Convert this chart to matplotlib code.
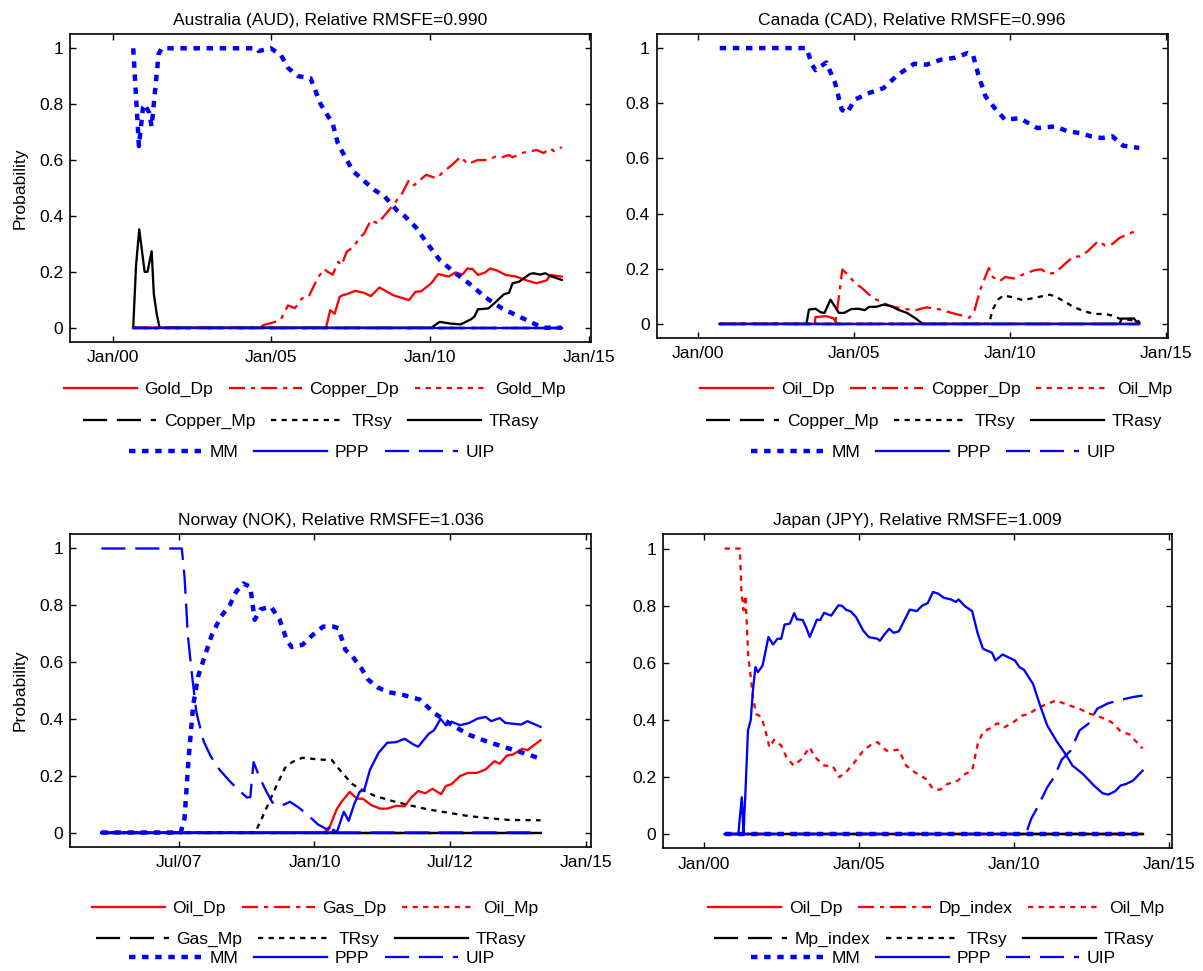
import matplotlib
matplotlib.use("Agg")
import matplotlib.pyplot as plt

plt.rcParams['font.family'] = ['Liberation Sans', 'DejaVu Sans']
FS = 12.6
W, H = 1203, 971

## Data: (decimal year, probability) pairs

# Australia (AUD)
aud_zero = [(2000.65, 0.0), (2014.14, 0.0)]
aud_gold_dp = [(2000.65, 0), (2006.72, 0), (2006.85, 0.063), (2006.99, 0.05), (2007.15, 0.111),
               (2007.26, 0.117), (2007.37, 0.12), (2007.64, 0.132), (2007.91, 0.125), (2008.13, 0.113),
               (2008.40, 0.144), (2008.62, 0.13), (2008.84, 0.116), (2009.33, 0.099), (2009.54, 0.129),
               (2009.71, 0.13), (2010.03, 0.159), (2010.25, 0.192), (2010.58, 0.183), (2010.79, 0.198),
               (2011.01, 0.19), (2011.17, 0.212), (2011.33, 0.21), (2011.50, 0.189), (2011.72, 0.197),
               (2011.88, 0.212), (2012.10, 0.205), (2012.37, 0.189), (2012.70, 0.183), (2013.02, 0.17),
               (2013.35, 0.159), (2013.67, 0.17), (2013.78, 0.189), (2014.14, 0.183)]
aud_copper_dp = [(2000.65, 0), (2004.65, 0), (2004.76, 0.01), (2005.09, 0.02), (2005.30, 0.03),
                 (2005.52, 0.08), (2005.74, 0.07), (2005.96, 0.105), (2006.17, 0.11), (2006.45, 0.177),
                 (2006.66, 0.21), (2006.77, 0.20), (2006.93, 0.19), (2007.10, 0.236), (2007.21, 0.224),
                 (2007.37, 0.272), (2007.59, 0.29), (2007.80, 0.326), (2007.91, 0.335), (2008.13, 0.385),
                 (2008.35, 0.373), (2008.57, 0.403), (2008.84, 0.44), (2009.11, 0.48), (2009.33, 0.528),
                 (2009.49, 0.51), (2009.87, 0.547), (2010.20, 0.535), (2010.41, 0.558), (2010.68, 0.582),
                 (2010.96, 0.612), (2011.17, 0.586), (2011.50, 0.60), (2011.83, 0.60), (2012.04, 0.612),
                 (2012.26, 0.61), (2012.48, 0.618), (2012.59, 0.61), (2012.91, 0.626), (2013.35, 0.636),
                 (2013.57, 0.625), (2013.78, 0.642), (2013.89, 0.632), (2014.14, 0.646)]
aud_trasy = [(2000.65, 0), (2000.74, 0.224), (2000.84, 0.352), (2001.01, 0.20), (2001.10, 0.20),
             (2001.23, 0.274), (2001.30, 0.12), (2001.39, 0.05), (2001.48, 0), (2010.03, 0),
             (2010.30, 0.021), (2010.63, 0.015), (2010.96, 0.012), (2011.28, 0.03), (2011.39, 0.04),
             (2011.50, 0.066), (2011.83, 0.069), (2012.04, 0.09), (2012.32, 0.12), (2012.48, 0.125),
             (2012.59, 0.159), (2012.80, 0.165), (2013.13, 0.192), (2013.24, 0.195), (2013.46, 0.19),
             (2013.62, 0.195), (2013.78, 0.185), (2014.14, 0.171)]
aud_mm = [(2000.65, 1.0), (2000.83, 0.65), (2000.96, 0.79), (2001.01, 0.80), (2001.15, 0.77),
          (2001.23, 0.72), (2001.28, 0.78), (2001.45, 0.98), (2001.55, 1.0), (2004.54, 1.0),
          (2004.60, 0.99), (2004.98, 1.0), (2005.30, 0.976), (2005.52, 0.93), (2005.85, 0.90),
          (2006.23, 0.893), (2006.55, 0.80), (2006.93, 0.73), (2007.09, 0.66), (2007.37, 0.60),
          (2007.59, 0.558), (2007.97, 0.52), (2008.24, 0.493), (2008.57, 0.469), (2008.95, 0.42),
          (2009.22, 0.397), (2009.54, 0.36), (2009.98, 0.29), (2010.30, 0.242), (2010.74, 0.20),
          (2011.28, 0.153), (2011.72, 0.11), (2012.26, 0.069), (2012.80, 0.04), (2013.35, 0.01),
          (2013.57, 0.0), (2014.14, 0.0)]

# Canada (CAD)
cad_zero = [(2000.69, 0.0), (2014.14, 0.0)]
cad_oil_dp = [(2000.69, 0), (2003.74, 0), (2003.76, 0.025), (2004.11, 0.028), (2004.34, 0.02),
              (2004.45, 0), (2014.14, 0)]
cad_copper_dp = [(2000.69, 0), (2004.39, 0), (2004.50, 0.09), (2004.62, 0.197), (2004.79, 0.179),
                 (2005.02, 0.149), (2005.25, 0.13), (2005.48, 0.106), (2005.71, 0.088), (2005.94, 0.076),
                 (2006.17, 0.064), (2006.63, 0.054), (2006.97, 0.05), (2007.32, 0.06), (2007.78, 0.052),
                 (2008.12, 0.04), (2008.46, 0.03), (2008.69, 0.022), (2008.86, 0.05), (2009.04, 0.124),
                 (2009.21, 0.173), (2009.32, 0.203), (2009.44, 0.17), (2009.67, 0.155), (2009.84, 0.17),
                 (2010.13, 0.165), (2010.41, 0.179), (2010.76, 0.194), (2010.99, 0.198), (2011.22, 0.182),
                 (2011.44, 0.185), (2011.79, 0.221), (2012.02, 0.243), (2012.25, 0.245), (2012.48, 0.263),
                 (2012.82, 0.30), (2013.05, 0.284), (2013.28, 0.29), (2013.51, 0.312), (2013.74, 0.324),
                 (2014.14, 0.342)]
cad_trsy = [(2000.69, 0), (2009.32, 0), (2009.44, 0.052), (2009.61, 0.088), (2009.78, 0.103),
            (2010.07, 0.097), (2010.41, 0.086), (2010.76, 0.094), (2011.27, 0.106), (2011.44, 0.10),
            (2011.73, 0.082), (2012.02, 0.062), (2012.37, 0.046), (2012.71, 0.036), (2013.05, 0.036),
            (2013.28, 0.03), (2013.51, 0.019), (2013.80, 0.015), (2014.14, 0.01)]
cad_trasy = [(2000.69, 0), (2003.47, 0), (2003.55, 0.052), (2003.76, 0.055), (2003.93, 0.042),
             (2004.05, 0.04), (2004.24, 0.088), (2004.51, 0.04), (2004.68, 0.04), (2004.91, 0.054),
             (2005.14, 0.055), (2005.34, 0.05), (2005.48, 0.062), (2005.71, 0.062), (2005.94, 0.07),
             (2006.17, 0.065), (2006.40, 0.052), (2006.69, 0.04), (2006.97, 0.02), (2007.20, 0),
             (2013.51, 0), (2013.57, 0.019), (2013.97, 0.02), (2014.03, 0.01), (2014.14, 0.005)]
cad_mm = [(2000.69, 1.0), (2003.47, 1.0), (2003.65, 0.94), (2003.76, 0.92), (2004.11, 0.948),
          (2004.39, 0.873), (2004.60, 0.777), (2004.77, 0.765), (2005.02, 0.813), (2005.42, 0.835),
          (2005.94, 0.855), (2006.40, 0.903), (2006.92, 0.943), (2007.32, 0.94), (2007.78, 0.958),
          (2008.23, 0.965), (2008.64, 0.982), (2008.81, 0.975), (2008.98, 0.903), (2009.21, 0.825),
          (2009.50, 0.783), (2009.84, 0.74), (2010.30, 0.746), (2010.87, 0.71), (2011.44, 0.716),
          (2011.85, 0.698), (2012.25, 0.692), (2012.59, 0.68), (2012.94, 0.674), (2013.28, 0.68),
          (2013.62, 0.646), (2014.14, 0.638)]

# Norway (NOK)
nok_zero = [(2006.08, 0.0), (2014.16, 0.0)]
nok_oil_dp = [(2006.08, 0), (2010.16, 0), (2010.26, 0.01), (2010.41, 0.082), (2010.51, 0.111),
              (2010.65, 0.143), (2010.78, 0.119), (2010.89, 0.119), (2011.05, 0.096), (2011.21, 0.084),
              (2011.34, 0.084), (2011.50, 0.094), (2011.66, 0.092), (2011.78, 0.123), (2011.91, 0.146),
              (2012.04, 0.138), (2012.17, 0.154), (2012.33, 0.135), (2012.42, 0.164), (2012.52, 0.17),
              (2012.68, 0.199), (2012.83, 0.21), (2012.99, 0.21), (2013.15, 0.222), (2013.31, 0.251),
              (2013.41, 0.242), (2013.54, 0.271), (2013.66, 0.275), (2013.82, 0.295), (2013.92, 0.29),
              (2014.16, 0.325)]
nok_trsy = [(2006.08, 0), (2008.91, 0), (2009.04, 0.053), (2009.27, 0.152), (2009.46, 0.228),
            (2009.59, 0.248), (2009.78, 0.263), (2010.09, 0.257), (2010.32, 0.255), (2010.51, 0.21),
            (2010.70, 0.17), (2010.86, 0.152), (2011.11, 0.129), (2011.43, 0.111), (2011.75, 0.096),
            (2012.07, 0.082), (2012.45, 0.07), (2012.83, 0.058), (2013.22, 0.05), (2013.60, 0.044),
            (2014.16, 0.043)]
nok_mm = [(2006.08, 0), (2007.54, 0), (2007.61, 0.05), (2007.68, 0.25), (2007.77, 0.45),
          (2007.86, 0.55), (2007.99, 0.626), (2008.12, 0.70), (2008.28, 0.76), (2008.44, 0.80),
          (2008.56, 0.848), (2008.69, 0.877), (2008.82, 0.865), (2008.90, 0.749), (2009.01, 0.786),
          (2009.20, 0.795), (2009.36, 0.749), (2009.49, 0.678), (2009.58, 0.653), (2009.78, 0.661),
          (2009.97, 0.696), (2010.16, 0.725), (2010.35, 0.725), (2010.44, 0.719), (2010.57, 0.643),
          (2010.70, 0.62), (2010.86, 0.579), (2010.99, 0.538), (2011.18, 0.509), (2011.37, 0.494),
          (2011.62, 0.485), (2011.94, 0.468), (2012.20, 0.421), (2012.52, 0.38), (2012.83, 0.345),
          (2013.15, 0.322), (2013.47, 0.302), (2013.73, 0.287), (2014.16, 0.26)]
nok_ppp = [(2006.08, 0), (2010.32, 0), (2010.35, 0.01), (2010.41, 0), (2010.54, 0.073),
           (2010.63, 0.041), (2010.73, 0.099), (2010.83, 0.143), (2010.92, 0.152), (2011.02, 0.22),
           (2011.18, 0.281), (2011.34, 0.316), (2011.50, 0.318), (2011.66, 0.33), (2011.82, 0.31),
           (2011.91, 0.302), (2012.10, 0.347), (2012.20, 0.36), (2012.32, 0.40), (2012.42, 0.377),
           (2012.52, 0.39), (2012.68, 0.378), (2012.84, 0.385), (2013.00, 0.401), (2013.15, 0.407),
           (2013.25, 0.392), (2013.41, 0.403), (2013.51, 0.386), (2013.80, 0.38), (2013.92, 0.392),
           (2014.16, 0.372)]
nok_uip = [(2006.08, 1.0), (2007.56, 1.0), (2007.61, 0.90), (2007.67, 0.696), (2007.75, 0.55),
           (2007.83, 0.421), (2007.96, 0.322), (2008.09, 0.269), (2008.25, 0.222), (2008.44, 0.181),
           (2008.60, 0.15), (2008.76, 0.123), (2008.82, 0.125), (2008.88, 0.248), (2008.98, 0.199),
           (2009.11, 0.146), (2009.23, 0.105), (2009.39, 0.094), (2009.55, 0.108), (2009.71, 0.088),
           (2009.90, 0.058), (2010.06, 0.029), (2010.22, 0.012), (2010.32, 0.021), (2010.38, 0),
           (2014.16, 0)]

# Japan (JPY)
jpy_zero = [(2000.68, 0.0), (2014.14, 0.0)]
jpy_oil_mp = [(2000.68, 1.0), (2001.17, 1.0), (2001.22, 0.848), (2001.29, 0.784), (2001.35, 0.836),
              (2001.44, 0.62), (2001.52, 0.55), (2001.59, 0.48), (2001.69, 0.421), (2001.86, 0.41),
              (2001.98, 0.368), (2002.12, 0.304), (2002.27, 0.33), (2002.50, 0.31), (2002.67, 0.269),
              (2002.90, 0.24), (2003.13, 0.26), (2003.42, 0.304), (2003.59, 0.269), (2003.88, 0.24),
              (2004.16, 0.238), (2004.37, 0.199), (2004.63, 0.222), (2004.86, 0.251), (2005.14, 0.292),
              (2005.43, 0.316), (2005.60, 0.322), (2005.89, 0.292), (2006.29, 0.295), (2006.52, 0.24),
              (2006.81, 0.216), (2007.16, 0.193), (2007.39, 0.158), (2007.62, 0.155), (2007.85, 0.175),
              (2008.19, 0.187), (2008.42, 0.21), (2008.65, 0.222), (2008.83, 0.316), (2009.00, 0.357),
              (2009.29, 0.374), (2009.46, 0.388), (2009.69, 0.374), (2009.98, 0.392), (2010.26, 0.415),
              (2010.49, 0.421), (2010.72, 0.439), (2011.07, 0.456), (2011.36, 0.468), (2011.64, 0.456),
              (2011.88, 0.447), (2012.10, 0.439), (2012.45, 0.421), (2012.80, 0.409), (2013.14, 0.392),
              (2013.43, 0.36), (2013.71, 0.349), (2013.95, 0.322), (2014.14, 0.30)]
jpy_ppp = [(2000.68, 0), (2001.12, 0), (2001.23, 0.129), (2001.29, 0.0), (2001.31, 0.06),
           (2001.35, 0.15), (2001.43, 0.363), (2001.52, 0.40), (2001.59, 0.503), (2001.67, 0.585),
           (2001.75, 0.567), (2001.90, 0.59), (2002.09, 0.69), (2002.24, 0.664), (2002.38, 0.684),
           (2002.50, 0.684), (2002.61, 0.734), (2002.78, 0.737), (2002.92, 0.774), (2003.01, 0.752),
           (2003.19, 0.75), (2003.30, 0.725), (2003.42, 0.69), (2003.65, 0.751), (2003.76, 0.75),
           (2003.88, 0.775), (2004.11, 0.765), (2004.34, 0.801), (2004.45, 0.80), (2004.60, 0.785),
           (2004.74, 0.78), (2004.91, 0.76), (2005.14, 0.713), (2005.32, 0.69), (2005.60, 0.684),
           (2005.68, 0.677), (2005.83, 0.70), (2005.98, 0.719), (2006.12, 0.705), (2006.29, 0.71),
           (2006.47, 0.749), (2006.64, 0.786), (2006.87, 0.781), (2007.04, 0.80), (2007.22, 0.809),
           (2007.39, 0.848), (2007.56, 0.842), (2007.73, 0.828), (2007.96, 0.822), (2008.13, 0.813),
           (2008.21, 0.822), (2008.42, 0.798), (2008.65, 0.781), (2008.83, 0.702), (2009.00, 0.649),
           (2009.29, 0.635), (2009.40, 0.608), (2009.63, 0.629), (2009.80, 0.62), (2010.03, 0.608),
           (2010.17, 0.585), (2010.32, 0.575), (2010.61, 0.526), (2010.84, 0.45), (2011.07, 0.38),
           (2011.36, 0.327), (2011.65, 0.281), (2011.88, 0.24), (2012.22, 0.21), (2012.57, 0.17),
           (2012.85, 0.143), (2013.03, 0.138), (2013.26, 0.15), (2013.43, 0.17), (2013.60, 0.175),
           (2013.83, 0.187), (2014.14, 0.222)]
jpy_uip = [(2000.68, 0), (2010.38, 0), (2010.55, 0.053), (2010.78, 0.099), (2011.07, 0.164),
           (2011.30, 0.201), (2011.53, 0.26), (2011.82, 0.292), (2012.11, 0.363), (2012.39, 0.386),
           (2012.68, 0.439), (2013.03, 0.458), (2013.37, 0.468), (2013.83, 0.48), (2014.14, 0.485)]

## Tick labels
ytick_vals = [0, 0.2, 0.4, 0.6, 0.8, 1]
ytick_labels = ['0', '0.2', '0.4', '0.6', '0.8', '1']
xt_long = [2000, 2005, 2010, 2015]
xt_long_labels = ['Jan/00', 'Jan/05', 'Jan/10', 'Jan/15']
xt_nok = [2007.5, 2010, 2012.5, 2015]
xt_nok_labels = ['Jul/07', 'Jan/10', 'Jul/12', 'Jan/15']

## Line styles for the nine models (same slot order in every panel)
LW = 1.65
STYLES = [
    dict(color='red', lw=LW, ls='-'),
    dict(color='red', lw=LW, ls=(0, (7, 2.6, 1.8, 2.6))),
    dict(color='red', lw=LW, ls=(0, (2.3, 2.3))),
    dict(color='black', lw=LW, ls=(0, (10.5, 4.3))),
    dict(color='black', lw=LW, ls=(0, (2.3, 2.3))),
    dict(color='black', lw=LW, ls='-'),
    dict(color='blue', lw=3.2, ls=(0, (1.45, 1.5))),
    dict(color='blue', lw=LW, ls='-'),
    dict(color='blue', lw=LW, ls=(0, (10.5, 4.3))),
]

panels = [
    dict(title='Australia (AUD), Relative RMSFE=0.990', box=(70.3, 34.3, 590.7, 341.7),
         xlim=(1998.67, 2015.05), xt=xt_long, xtl=xt_long_labels, ylabel=True, col=0, row=0,
         labels=['Gold_Dp', 'Copper_Dp', 'Gold_Mp', 'Copper_Mp', 'TRsy', 'TRasy', 'MM', 'PPP', 'UIP'],
         series=[aud_gold_dp, aud_copper_dp, aud_zero, aud_zero, aud_zero, aud_trasy, aud_mm, aud_zero, aud_zero]),
    dict(title='Canada (CAD), Relative RMSFE=0.996', box=(656.7, 34.3, 1167.7, 337.7),
         xlim=(1998.67, 2015.05), xt=xt_long, xtl=xt_long_labels, ylabel=False, col=1, row=0,
         labels=['Oil_Dp', 'Copper_Dp', 'Oil_Mp', 'Copper_Mp', 'TRsy', 'TRasy', 'MM', 'PPP', 'UIP'],
         series=[cad_oil_dp, cad_copper_dp, cad_zero, cad_zero, cad_trsy, cad_trasy, cad_mm, cad_zero, cad_zero]),
    dict(title='Norway (NOK), Relative RMSFE=1.036', box=(70.4, 534.3, 591.1, 846.7),
         xlim=(2005.51, 2015.09), xt=xt_nok, xtl=xt_nok_labels, ylabel=True, col=0, row=1,
         labels=['Oil_Dp', 'Gas_Dp', 'Oil_Mp', 'Gas_Mp', 'TRsy', 'TRasy', 'MM', 'PPP', 'UIP'],
         series=[nok_oil_dp, nok_zero, nok_zero, nok_zero, nok_trsy, nok_zero, nok_mm, nok_ppp, nok_uip]),
    dict(title='Japan (JPY), Relative RMSFE=1.009', box=(663.2, 534.3, 1172.1, 848.3),
         xlim=(1998.70, 2015.09), xt=xt_long, xtl=xt_long_labels, ylabel=False, col=1, row=1,
         labels=['Oil_Dp', 'Dp_index', 'Oil_Mp', 'Mp_index', 'TRsy', 'TRasy', 'MM', 'PPP', 'UIP'],
         series=[jpy_zero, jpy_zero, jpy_oil_mp, jpy_zero, jpy_zero, jpy_zero, jpy_zero, jpy_ppp, jpy_uip]),
]

## legend row centres in pixels
leg_x = [[315.0, 311.0, 311.8], [936.2, 933.9, 933.4]]
leg_y = [[389.8, 421.7, 452.7], [908.3, 939.3, 958.3]]

fig = plt.figure(figsize=(W / 100, H / 100), dpi=100)

for p in panels:
    l, t, r, b = p['box']
    ax = fig.add_axes([l / W, 1 - b / H, (r - l) / W, (b - t) / H])
    lines = []
    for data, st, lab in zip(p['series'], STYLES, p['labels']):
        xs = [d[0] for d in data]
        ys = [d[1] for d in data]
        ln, = ax.plot(xs, ys, label=lab, **st)
        lines.append(ln)
    ax.set_xlim(*p['xlim'])
    ax.set_ylim(-0.05, 1.05)
    ax.set_xticks(p['xt'])
    ax.set_xticklabels(p['xtl'])
    ax.set_yticks(ytick_vals)
    ax.set_yticklabels(ytick_labels)
    ax.tick_params(direction='in', length=4, width=1.0, top=True, right=True, labelsize=FS)
    ax.tick_params(axis='x', pad=6)
    ax.tick_params(axis='y', pad=5)
    for s in ax.spines.values():
        s.set_linewidth(1.2)
    ax.set_title(p['title'], fontsize=FS, pad=6.4)
    if p['ylabel']:
        ax.set_ylabel('Probability', fontsize=FS)
        ax.yaxis.set_label_coords((28 - l) / (r - l), 0.5)

    ## one legend per row, three entries each
    for k in range(3):
        idx = [3 * k, 3 * k + 1, 3 * k + 2]
        fig.legend(handles=[lines[i] for i in idx], labels=[p['labels'][i] for i in idx],
                   loc='center', ncol=3, frameon=False, fontsize=FS,
                   bbox_to_anchor=(leg_x[p['col']][k] / W, 1 - leg_y[p['row']][k] / H),
                   bbox_transform=fig.transFigure, handlelength=4.17, handletextpad=0.43,
                   columnspacing=0.9, borderpad=0, borderaxespad=0)

fig.savefig('out.png', dpi=100)
